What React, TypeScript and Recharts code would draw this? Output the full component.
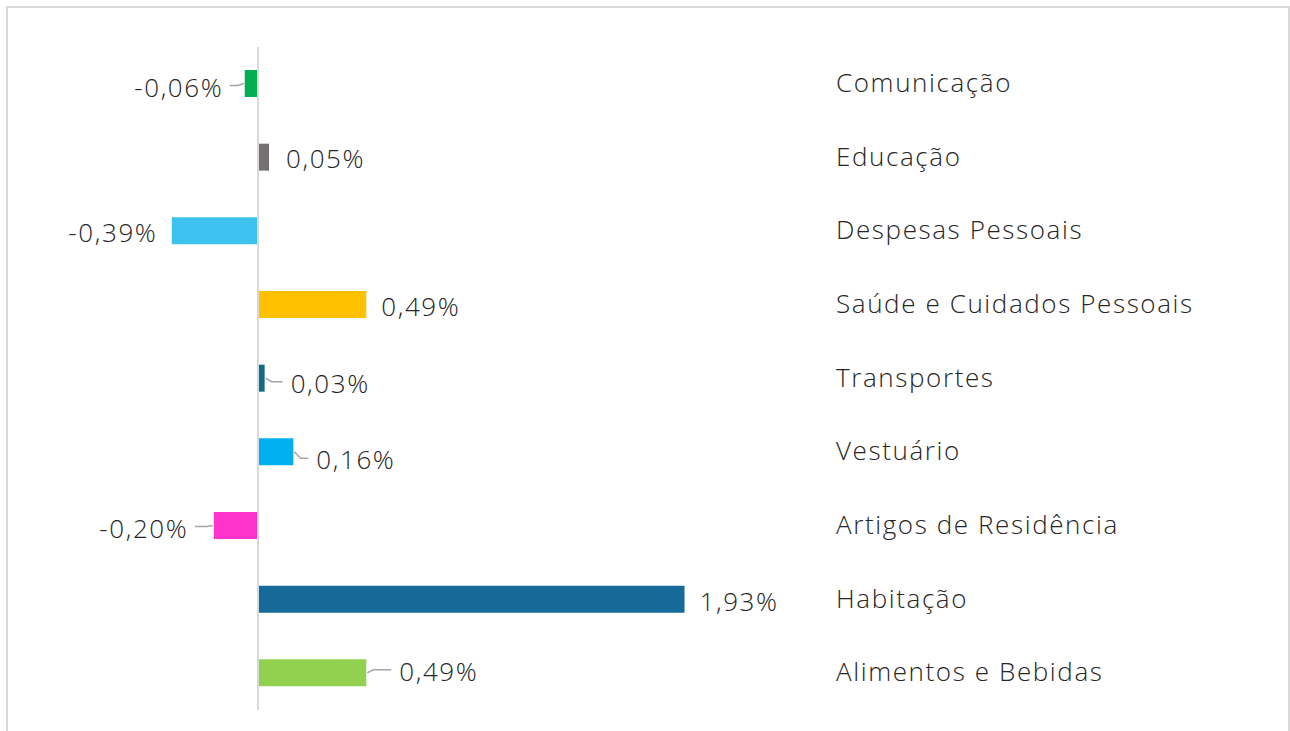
import React from "react";
import { BarChart, Bar, XAxis, YAxis, Cell, LabelList, ReferenceLine } from "recharts";

const categories = [
  "Comunicação",
  "Educação",
  "Despesas Pessoais",
  "Saúde e Cuidados Pessoais",
  "Transportes",
  "Vestuário",
  "Artigos de Residência",
  "Habitação",
  "Alimentos e Bebidas",
];
const values = [-0.06, 0.05, -0.39, 0.49, 0.03, 0.16, -0.2, 1.93, 0.49];
const colors = ["#00b050", "#767171", "#3dc1ee", "#ffc000", "#156985", "#00b0f0", "#ff33cc", "#166a9a", "#92d050"];

// label layout tweaks (gap from bar end, vertical nudge, leader line)
const labelGap = [23, 17, 16, 15, 26, 23, 27, 15, 33];
const labelDy = [3, 1, 1, 1, 4.5, 7.5, 2, 2, -2];
const labelLeader = [true, false, false, false, true, true, true, false, true];

const data = categories.map((name, i) => ({ name, value: values[i] }));

const FONT = "'Open Sans', 'Noto Sans', sans-serif";
const FONT_SIZE = 26;
const SPACING = 1.6;
const TEXT_COLOR = "#262626";
const fmt = (v: number) => v.toFixed(2).replace(".", ",") + "%";

const renderLabel = (props: any) => {
  const { x, y, width, height, value, index } = props;
  const xa = Number(x);
  const xb = Number(x) + Number(width);
  const neg = value < 0;
  const end = neg ? Math.min(xa, xb) : Math.max(xa, xb);
  const sign = neg ? -1 : 1;
  const cy = Number(y) + Number(height) / 2;
  const gap = labelGap[index];
  const dy = labelDy[index];
  const textEdge = end + sign * gap;
  const ty = cy + dy;
  return (
    <g>
      {labelLeader[index] && (
        <polyline
          points={`${end + sign * 1},${cy} ${end + sign * 7},${ty - 1} ${textEdge - sign * 8},${ty - 1}`}
          fill="none"
          stroke="#a6a6a6"
          strokeWidth={1.5}
        />
      )}
      <text
        x={neg ? textEdge + SPACING : textEdge}
        y={ty}
        textAnchor={neg ? "end" : "start"}
        dominantBaseline="central"
        fontFamily={FONT}
        fontWeight={300}
        fontSize={FONT_SIZE}
        fill={TEXT_COLOR}
        style={{ letterSpacing: SPACING }}
      >
        {fmt(value)}
      </text>
    </g>
  );
};

const CategoryTick = (props: any) => {
  const { x, y, payload } = props;
  return (
    <text
      x={x}
      y={Number(y) - 2}
      textAnchor="start"
      dominantBaseline="central"
      fontFamily={FONT}
      fontWeight={300}
      fontSize={FONT_SIZE}
      fill={TEXT_COLOR}
      style={{ letterSpacing: SPACING }}
    >
      {payload.value}
    </text>
  );
};

export default function App() {
  return (
    <div style={{ position: "absolute", left: 0, top: 0, width: 1290, height: 731, overflow: "hidden", background: "#fff" }}>
      <div
        style={{
          position: "absolute",
          left: 6,
          top: 6,
          width: 1284,
          height: 760,
          border: "2px solid #d9d9d9",
          boxSizing: "border-box",
        }}
      />
      <div style={{ position: "absolute", left: 0, top: 0 }}>
        <BarChart
          width={1290}
          height={731}
          data={data}
          layout="vertical"
          margin={{ top: 47, bottom: 21, left: 37, right: 0 }}
          barCategoryGap={0}
        >
          <XAxis type="number" domain={[-1, 2.5]} hide />
          <YAxis
            type="category"
            dataKey="name"
            orientation="right"
            width={479.5}
            axisLine={false}
            tickLine={false}
            tickSize={0}
            tickMargin={25.5}
            tick={<CategoryTick />}
            interval={0}
          />
          <ReferenceLine x={0} stroke="#d9d9d9" strokeWidth={2} />
          <Bar dataKey="value" barSize={27} isAnimationActive={false}>
            {data.map((d, i) => (
              <Cell key={d.name} fill={colors[i]} />
            ))}
            <LabelList dataKey="value" content={renderLabel} />
          </Bar>
        </BarChart>
      </div>
    </div>
  );
}
